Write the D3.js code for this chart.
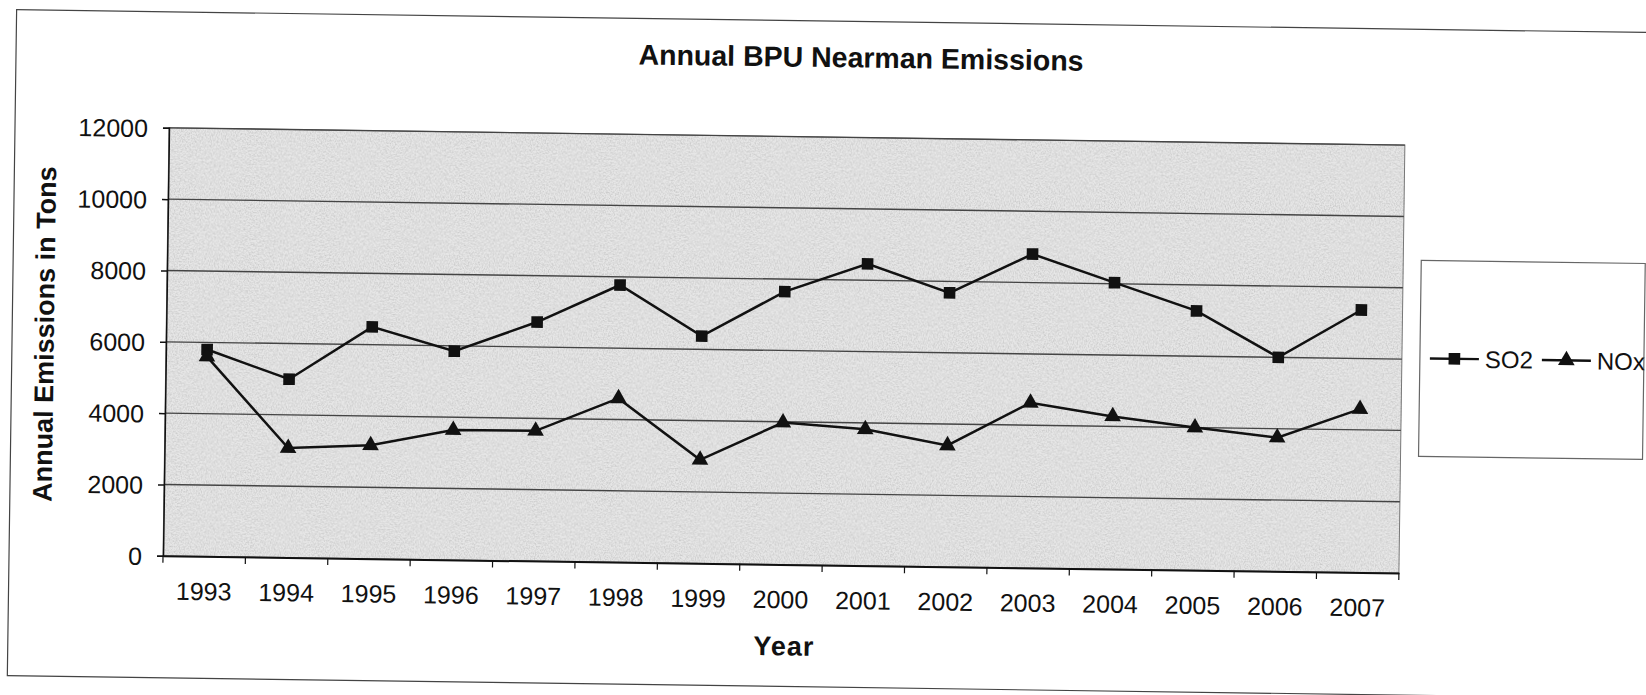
<!DOCTYPE html>
<html>
<head>
<meta charset="utf-8">
<script src="https://cdn.jsdelivr.net/npm/d3@7/dist/d3.min.js"></script>
<style>
  body { margin: 0; background: #fff; }
  svg text { font-family: "Liberation Sans", Arial, sans-serif; fill: #111; }
</style>
</head>
<body>
<svg id="emissions" width="1646" height="695"></svg>
<script>
var years = ["1993", "1994", "1995", "1996", "1997", "1998", "1999", "2000",
  "2001", "2002", "2003", "2004", "2005", "2006", "2007"];
var so2 = [5800, 5000, 6500, 5850, 6700, 7770, 6370, 7650, 8460, 7680, 8800, 8030, 7270, 6000, 7360];
var nox = [5600, 3070, 3180, 3640, 3650, 4590, 2900, 3980, 3820, 3400, 4630, 4280, 4000, 3750, 4580];
var yTicks = [0, 2000, 4000, 6000, 8000, 10000, 12000];
var seriesNames = ["SO2", "NOx"];

var svg = d3.select("#emissions"),
  margin = { top: 137, right: 244, bottom: 130, left: 166 },
  width = +svg.attr("width") - margin.left - margin.right,
  height = +svg.attr("height") - margin.top - margin.bottom;

// grainy grey fill like the photocopied plot area
var defs = svg.append("defs");
var grain = defs.append("filter")
  .attr("id", "grain")
  .attr("x", 0).attr("y", 0).attr("width", "100%").attr("height", "100%");
grain.append("feTurbulence")
  .attr("type", "fractalNoise")
  .attr("baseFrequency", "0.8 0.6")
  .attr("numOctaves", 2)
  .attr("seed", 7)
  .attr("result", "noise");
grain.append("feColorMatrix")
  .attr("in", "noise")
  .attr("type", "matrix")
  .attr("values", "0 0 0 0 0  0 0 0 0 0  0 0 0 0 0  1.6 0 0 0 -0.62");

// the scanned page sits a little crooked
var root = svg.append("g").attr("transform", "rotate(0.8 823 347)");

root.append("rect")
  .attr("x", 12).attr("y", 21)
  .attr("width", 1640).attr("height", 666)
  .attr("fill", "none")
  .attr("stroke", "#444")
  .attr("stroke-width", 1.2);

var x = d3.scaleBand().domain(years).range([0, width]);
var y = d3.scaleLinear().domain([0, 12000]).range([height, 0]);

var g = root.append("g")
  .attr("transform", "translate(" + margin.left + "," + margin.top + ")");

g.append("rect")
  .attr("width", width)
  .attr("height", height)
  .attr("fill", "#e6e6e6");

g.append("rect")
  .attr("width", width)
  .attr("height", height)
  .attr("fill", "#000")
  .attr("filter", "url(#grain)")
  .attr("opacity", 0.18);

g.append("rect")
  .attr("width", width)
  .attr("height", height)
  .attr("fill", "none")
  .attr("stroke", "#777")
  .attr("stroke-width", 1);

g.selectAll(".grid")
  .data(yTicks.filter(function (d) { return d > 0; }))
  .enter().append("line")
  .attr("class", "grid")
  .attr("x1", 0).attr("x2", width)
  .attr("y1", function (d) { return y(d); })
  .attr("y2", function (d) { return y(d); })
  .attr("stroke", "#444")
  .attr("stroke-width", 1.4);

var yAxis = g.append("g")
  .call(d3.axisLeft(y).tickValues(yTicks).tickFormat(d3.format("d")).tickSize(6).tickPadding(15));
yAxis.selectAll("text").attr("font-size", 25).attr("dy", "0.36em");
yAxis.selectAll("line, path").attr("stroke", "#111").attr("stroke-width", 1.5);

var xAxis = g.append("g")
  .attr("transform", "translate(0," + height + ")")
  .call(d3.axisBottom(x).tickSize(0).tickPadding(26));
xAxis.select(".domain").attr("stroke", "#111").attr("stroke-width", 2);
xAxis.selectAll("text").attr("font-size", 25);

// category ticks fall between the years
xAxis.selectAll(".cat-tick")
  .data(years.concat(["end"]))
  .enter().append("line")
  .attr("class", "cat-tick")
  .attr("x1", function (d) { return d === "end" ? width : x(d); })
  .attr("x2", function (d) { return d === "end" ? width : x(d); })
  .attr("y1", 0).attr("y2", 7)
  .attr("stroke", "#111")
  .attr("stroke-width", 1.2);

var line = d3.line()
  .x(function (d, i) { return x(years[i]) + x.bandwidth() / 2; })
  .y(function (d) { return y(d); });

var series = [
  { name: seriesNames[0], values: so2, symbol: d3.symbol(d3.symbolSquare, 135) },
  { name: seriesNames[1], values: nox, symbol: d3.symbol(d3.symbolTriangle, 120) }
];

series.forEach(function (s) {
  g.append("path")
    .datum(s.values)
    .attr("fill", "none")
    .attr("stroke", "#111")
    .attr("stroke-width", 2.5)
    .attr("d", line);

  g.selectAll(".pt-" + s.name)
    .data(s.values)
    .enter().append("path")
    .attr("class", "pt-" + s.name)
    .attr("transform", function (d, i) {
      return "translate(" + (x(years[i]) + x.bandwidth() / 2) + "," + y(d) + ")";
    })
    .attr("d", s.symbol)
    .attr("fill", "#111");
});

root.append("text")
  .attr("x", 857).attr("y", 67)
  .attr("text-anchor", "middle")
  .attr("font-size", 28.5)
  .attr("font-weight", "bold")
  .text("Annual BPU Nearman Emissions");

root.append("text")
  .attr("transform", "translate(44,345) rotate(-90)")
  .attr("dy", "0.36em")
  .attr("text-anchor", "middle")
  .attr("font-size", 27)
  .attr("font-weight", "bold")
  .text("Annual Emissions in Tons");

root.append("text")
  .attr("x", 788).attr("y", 656)
  .attr("text-anchor", "middle")
  .attr("font-size", 27)
  .attr("font-weight", "bold")
  .attr("letter-spacing", 1)
  .text("Year");

var legend = root.append("g").attr("transform", "translate(1420,252)");

legend.append("rect")
  .attr("width", 224).attr("height", 196)
  .attr("fill", "#fff")
  .attr("stroke", "#666")
  .attr("stroke-width", 1.2);

var item = legend.selectAll(".item")
  .data(series)
  .enter().append("g")
  .attr("class", "item")
  .attr("transform", function (d, i) { return "translate(" + (10 + i * 112) + ",98)"; });

item.append("line")
  .attr("x1", 0).attr("x2", 49)
  .attr("stroke", "#111").attr("stroke-width", 2.4);

item.append("path")
  .attr("transform", "translate(24.5,0)")
  .attr("d", function (d) { return d.symbol(); })
  .attr("fill", "#111");

item.append("text")
  .attr("x", 55)
  .attr("dy", "0.36em")
  .attr("font-size", 24)
  .text(function (d) { return d.name; });
</script>
</body>
</html>
